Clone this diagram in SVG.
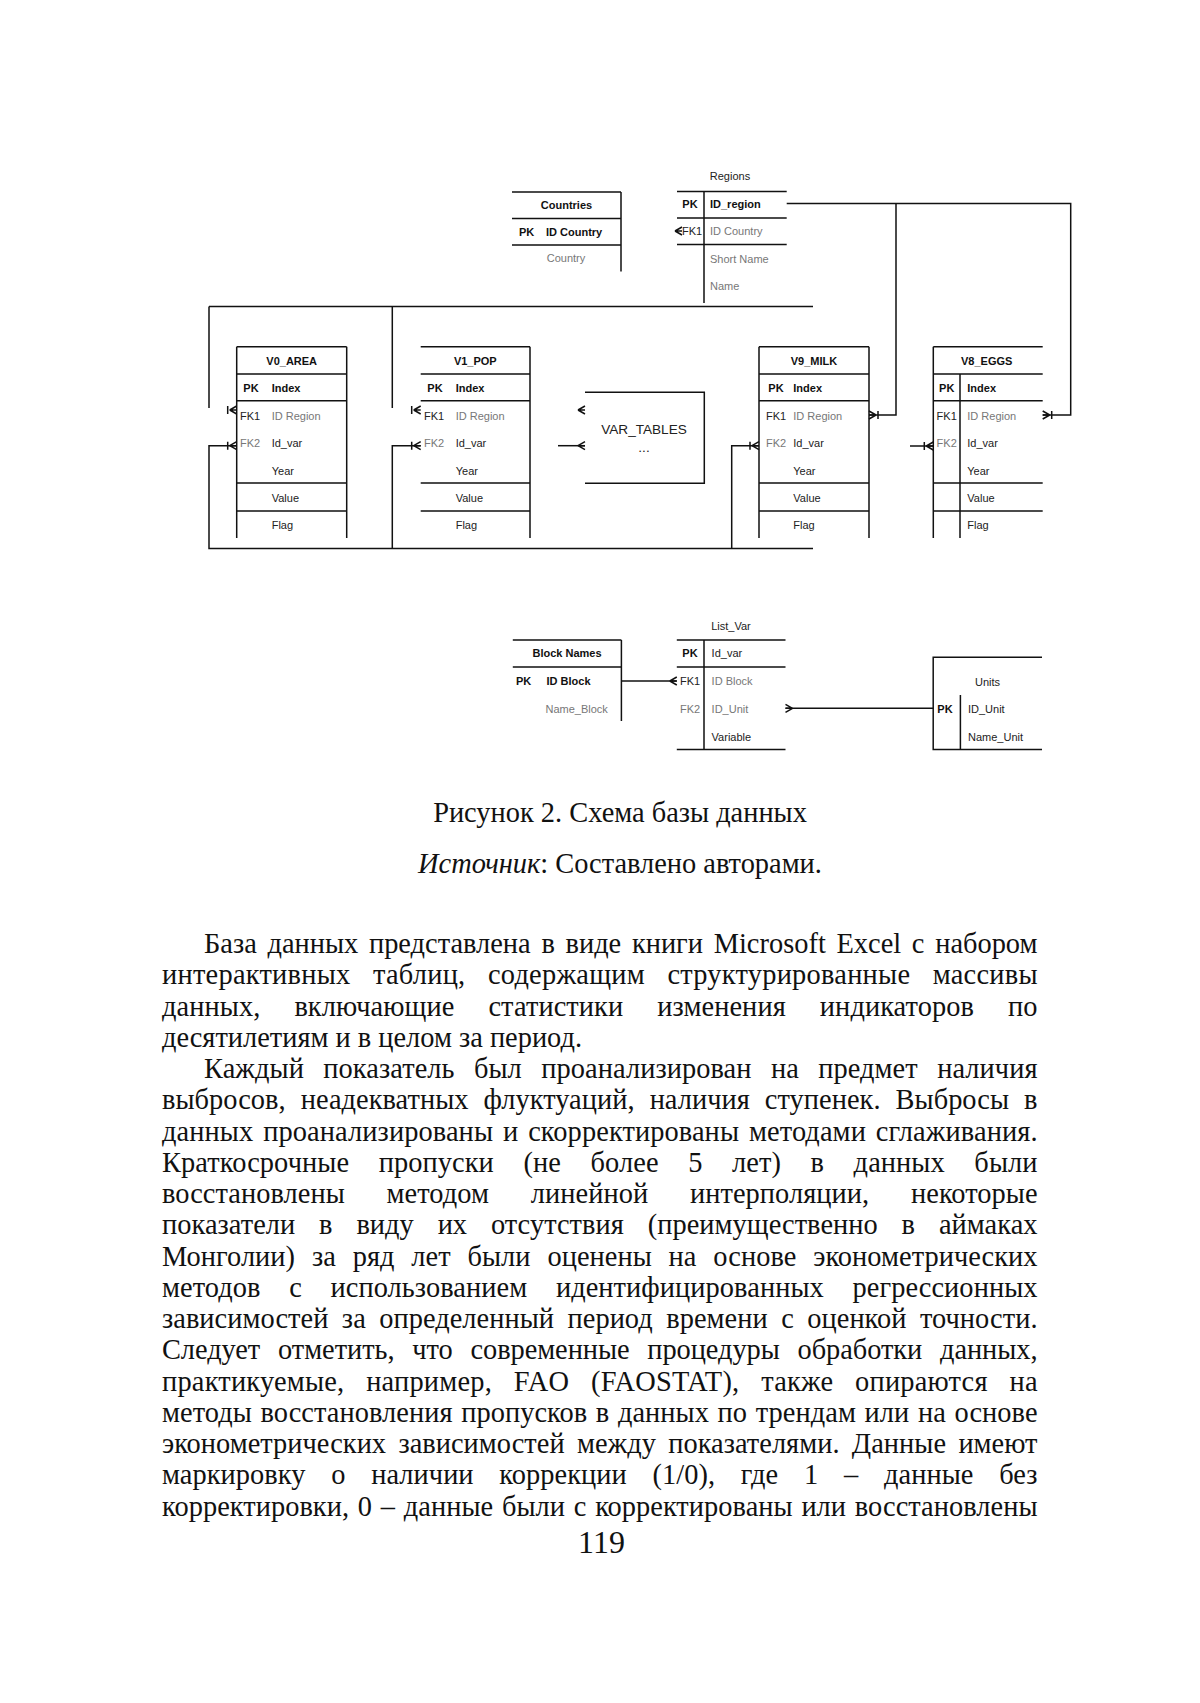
<svg xmlns="http://www.w3.org/2000/svg" xmlns:xlink="http://www.w3.org/1999/xlink" width="1200" height="1703" viewBox="0 0 1200 1703">
<style>
.ln{stroke:#111;stroke-width:1.5;fill:none}
.t{font-family:"Liberation Sans",Arial,sans-serif;font-size:11px;fill:#222}
.b{font-weight:bold;fill:#111}
.l{fill:#777}
.m{text-anchor:middle}
.body{font-family:"Liberation Serif","Times New Roman",serif;font-size:28.4px;fill:#111}
.cap{font-family:"Liberation Serif","Times New Roman",serif;font-size:28.4px;fill:#111;text-anchor:middle}
</style>
<defs>
<path id="cfb" class="ln" d="M-7,0 L0,-4 M-7,0 L0,4 M-7,0 H0 M-9,-4 V4"/>
<path id="cf" class="ln" d="M-7,0 L0,-4 M-7,0 L0,4 M-7,0 H0"/>
</defs>
<rect width="1200" height="1703" fill="#fff"/>

<g id="countries">
<path class="ln" d="M512,192H621M512,218.5H621M512,245H621M621,192V271.5"/>
<text class="t b m" x="566.5" y="209">Countries</text>
<text class="t b" x="519" y="235.5">PK</text>
<text class="t b" x="546" y="235.5">ID Country</text>
<text class="t l m" x="566" y="262">Country</text>
</g>

<g id="regions">
<text class="t m" x="730" y="180">Regions</text>
<path class="ln" d="M677,191.5H786.7M677,218H786.7M677,244.5H786.7M704,191.5V303"/>
<text class="t b m" x="690" y="208">PK</text>
<text class="t b" x="710" y="208">ID_region</text>
<text class="t m" x="692" y="235">FK1</text>
<text class="t l" x="710" y="235">ID Country</text>
<text class="t l" x="710" y="263">Short Name</text>
<text class="t l" x="710" y="289.5">Name</text>
</g>

<g id="v0_area">
<path class="ln" d="M236.7,346.7H346.7M236.7,374H346.7M236.7,400.7H346.7M236.7,483H346.7M236.7,511H346.7M236.7,346.7V538M346.7,346.7V538"/>
<text class="t b m" x="291.7" y="365">V0_AREA</text>
<text class="t b m" x="251" y="391.7">PK</text>
<text class="t b" x="271.7" y="391.7">Index</text>
<text class="t m" x="250" y="419.7">FK1</text>
<text class="t l" x="271.7" y="419.7">ID Region</text>
<text class="t l m" x="250" y="447">FK2</text>
<text class="t" x="271.7" y="447">Id_var</text>
<text class="t" x="271.7" y="474.7">Year</text>
<text class="t" x="271.7" y="501.7">Value</text>
<text class="t" x="271.7" y="529">Flag</text>
</g>

<g id="v1_pop">
<path class="ln" d="M420.7,346.7H530M420.7,374H530M420.7,400.7H530M420.7,483H530M420.7,511H530M530,346.7V538"/>
<text class="t b m" x="475.3" y="365">V1_POP</text>
<text class="t b m" x="435" y="391.7">PK</text>
<text class="t b" x="455.7" y="391.7">Index</text>
<text class="t m" x="434" y="419.7">FK1</text>
<text class="t l" x="455.7" y="419.7">ID Region</text>
<text class="t l m" x="434" y="447">FK2</text>
<text class="t" x="455.7" y="447">Id_var</text>
<text class="t" x="455.7" y="474.7">Year</text>
<text class="t" x="455.7" y="501.7">Value</text>
<text class="t" x="455.7" y="529">Flag</text>
</g>

<g id="var_tables">
<path class="ln" d="M585,392.3H704.3V483.3H585"/>
<text class="t m" x="644" y="434" style="font-size:13.6px">VAR_TABLES</text>
<text class="t m" x="644" y="452" style="font-size:13.6px">...</text>
</g>

<g id="v9_milk">
<path class="ln" d="M759,346.7H869M759,374H869M759,400.7H869M759,483H869M759,511H869M759,346.7V538M869,346.7V538"/>
<text class="t b m" x="814" y="365">V9_MILK</text>
<text class="t b m" x="776" y="391.7">PK</text>
<text class="t b" x="793.3" y="391.7">Index</text>
<text class="t m" x="776" y="419.7">FK1</text>
<text class="t l" x="793.3" y="419.7">ID Region</text>
<text class="t l m" x="776" y="447">FK2</text>
<text class="t" x="793.3" y="447">Id_var</text>
<text class="t" x="793.3" y="474.7">Year</text>
<text class="t" x="793.3" y="501.7">Value</text>
<text class="t" x="793.3" y="529">Flag</text>
</g>

<g id="v8_eggs">
<path class="ln" d="M933.3,346.7H1042.7M933.3,374H1042.7M933.3,400.7H1042.7M933.3,483H1042.7M933.3,511H1042.7M933.3,346.7V538M960,374V538"/>
<text class="t b m" x="986.7" y="365">V8_EGGS</text>
<text class="t b m" x="946.7" y="391.7">PK</text>
<text class="t b" x="967.3" y="391.7">Index</text>
<text class="t m" x="946.7" y="419.7">FK1</text>
<text class="t l" x="967.3" y="419.7">ID Region</text>
<text class="t l m" x="946.7" y="447">FK2</text>
<text class="t" x="967.3" y="447">Id_var</text>
<text class="t" x="967.3" y="474.7">Year</text>
<text class="t" x="967.3" y="501.7">Value</text>
<text class="t" x="967.3" y="529">Flag</text>
</g>

<g id="block_names">
<path class="ln" d="M512.8,640H621.4M512.8,667H621.4M621.4,640V721"/>
<text class="t b m" x="567" y="657">Block Names</text>
<text class="t b m" x="523.6" y="685">PK</text>
<text class="t b" x="546.5" y="685">ID Block</text>
<text class="t l" x="545.5" y="712.5">Name_Block</text>
</g>

<g id="list_var">
<text class="t m" x="731" y="629.5">List_Var</text>
<path class="ln" d="M676.8,640H785.5M676.8,667H785.5M676.8,749.5H785.5M704,640V749.5"/>
<text class="t b m" x="690" y="657">PK</text>
<text class="t" x="711.6" y="657">Id_var</text>
<text class="t m" x="690" y="685">FK1</text>
<text class="t l" x="711.6" y="685">ID Block</text>
<text class="t l m" x="690" y="712.5">FK2</text>
<text class="t l" x="711.6" y="712.5">ID_Unit</text>
<text class="t" x="711.6" y="740.5">Variable</text>
</g>

<g id="units">
<path class="ln" d="M1042,657.3H933.2V749.5H1042M960.4,695V749.5"/>
<text class="t m" x="987.5" y="685.5">Units</text>
<text class="t b m" x="945" y="712.5">PK</text>
<text class="t" x="968" y="712.5">ID_Unit</text>
<text class="t" x="968" y="740.5">Name_Unit</text>
</g>

<g id="connectors">
<path class="ln" d="M786.7,203.5H1070.7V415H1042.7"/>
<path class="ln" d="M896,203.5V415H869"/>
<path class="ln" style="stroke-width:1.7" d="M209,306.5H813"/>
<path class="ln" d="M209,306.5V408M392.3,306.5V408"/>
<path class="ln" d="M236.7,445.7H209V548.6H813"/>
<path class="ln" d="M420.7,445.7H392.3V548.6"/>
<path class="ln" d="M759,445.7H731.7V548.6"/>
<path class="ln" d="M558,445.7H585"/>
<path class="ln" d="M910,446H933.3"/>
<path class="ln" d="M621.4,681H676.8"/>
<path class="ln" d="M785.5,708.3H933.2"/>
<use xlink:href="#cfb" transform="translate(236.7,410)"/>
<use xlink:href="#cfb" transform="translate(236.7,445.7)"/>
<use xlink:href="#cfb" transform="translate(420.7,410)"/>
<use xlink:href="#cfb" transform="translate(420.7,445.7)"/>
<use xlink:href="#cf" transform="translate(585,410)"/>
<use xlink:href="#cf" transform="translate(585,445.7)"/>
<use xlink:href="#cfb" transform="translate(759,445.7)"/>
<use xlink:href="#cfb" transform="translate(869,415) scale(-1,1)"/>
<use xlink:href="#cfb" transform="translate(1042.7,415) scale(-1,1)"/>
<use xlink:href="#cfb" transform="translate(933.3,446)"/>
<use xlink:href="#cf" transform="translate(682,231)"/>
<use xlink:href="#cf" transform="translate(676.8,681)"/>
<use xlink:href="#cf" transform="translate(785.5,708.3) scale(-1,1)"/>
</g>

<g id="caption">
<text class="cap" x="620" y="822">Рисунок 2. Схема базы данных</text>
<text class="cap" x="620" y="872.5"><tspan font-style="italic">Источник</tspan>: Составлено авторами.</text>
</g>

<g id="body" class="body">
<text x="204" y="953" word-spacing="3.6" textLength="833.5" lengthAdjust="spacing">База данных представлена в виде книги Microsoft Excel с набором</text>
<text x="162" y="984.3" word-spacing="15.1" textLength="875.5" lengthAdjust="spacing">интерактивных таблиц, содержащим структурированные массивы</text>
<text x="162" y="1015.5" word-spacing="26.9" textLength="875.5" lengthAdjust="spacing">данных, включающие статистики изменения индикаторов по</text>
<text x="162" y="1046.8">десятилетиям и в целом за период.</text>
<text x="204" y="1078" word-spacing="12.2" textLength="833.5" lengthAdjust="spacing">Каждый показатель был проанализирован на предмет наличия</text>
<text x="162" y="1109.3" word-spacing="7.9" textLength="875.5" lengthAdjust="spacing">выбросов, неадекватных флуктуаций, наличия ступенек. Выбросы в</text>
<text x="162" y="1140.6" word-spacing="2.7" textLength="875.5" lengthAdjust="spacing">данных проанализированы и скорректированы методами сглаживания.</text>
<text x="162" y="1171.8" word-spacing="22.4" textLength="875.5" lengthAdjust="spacing">Краткосрочные пропуски (не более 5 лет) в данных были</text>
<text x="162" y="1203.1" word-spacing="34.7" textLength="875.5" lengthAdjust="spacing">восстановлены методом линейной интерполяции, некоторые</text>
<text x="162" y="1234.3" word-spacing="16.7" textLength="875.5" lengthAdjust="spacing">показатели в виду их отсутствия (преимущественно в аймаках</text>
<text x="162" y="1265.6" word-spacing="9.7" textLength="875.5" lengthAdjust="spacing">Монголии) за ряд лет были оценены на основе эконометрических</text>
<text x="162" y="1296.9" word-spacing="21.5" textLength="875.5" lengthAdjust="spacing">методов с использованием идентифицированных регрессионных</text>
<text x="162" y="1328.1" word-spacing="6.3" textLength="875.5" lengthAdjust="spacing">зависимостей за определенный период времени с оценкой точности.</text>
<text x="162" y="1359.4" word-spacing="10.8" textLength="875.5" lengthAdjust="spacing">Следует отметить, что современные процедуры обработки данных,</text>
<text x="162" y="1390.6" word-spacing="14.5" textLength="875.5" lengthAdjust="spacing">практикуемые, например, FAO (FAOSTAT), также опираются на</text>
<text x="162" y="1421.9" word-spacing="1.5" textLength="875.5" lengthAdjust="spacing">методы восстановления пропусков в данных по трендам или на основе</text>
<text x="162" y="1453.2" word-spacing="5.2" textLength="875.5" lengthAdjust="spacing">эконометрических зависимостей между показателями. Данные имеют</text>
<text x="162" y="1484.4" word-spacing="18.6" textLength="875.5" lengthAdjust="spacing">маркировку о наличии коррекции (1/0), где 1 – данные без</text>
<text x="162" y="1515.7" word-spacing="1.6" textLength="875.5" lengthAdjust="spacing">корректировки, 0 – данные были с корректированы или восстановлены</text>
</g>
<text id="page-number" x="601.5" y="1553" style="font-family:'Liberation Serif','Times New Roman',serif;font-size:32px;fill:#111;text-anchor:middle">119</text>
</svg>
